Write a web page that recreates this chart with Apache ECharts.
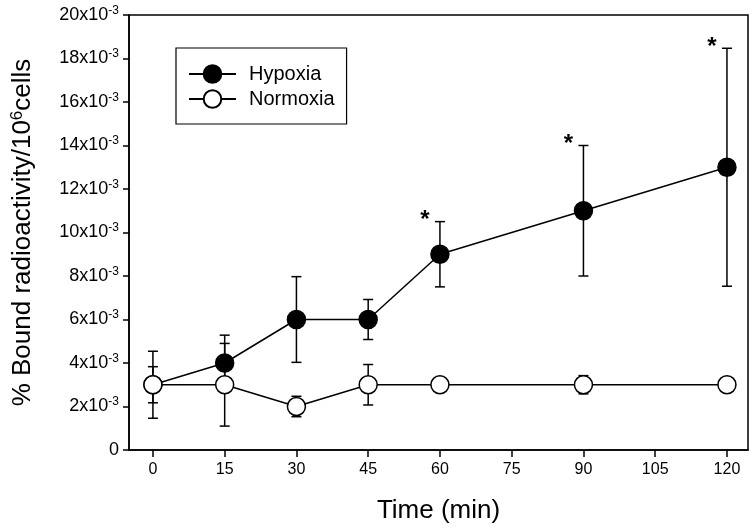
<!DOCTYPE html>
<html>
<head>
<meta charset="utf-8">
<script src="https://cdn.jsdelivr.net/npm/echarts@6/dist/echarts.min.js"></script>
<style>html,body{margin:0;padding:0;background:#fff;}#c{width:754px;height:530px;}</style>
</head>
<body>
<div id="c"></div>
<script>
// values in units of 10^-3 % bound radioactivity per 10^6 cells
const times = [0, 15, 30, 45, 60, 90, 120];
const hypoxia = [3, 4, 6, 6, 9, 11, 13];
const hypoxiaErr = [0.83, 1.28, 1.97, 0.92, 1.5, 3.0, 5.47];
const normoxia = [3, 3, 2, 3, 3, 3, 3];
const normoxiaErr = [1.54, 1.9, 0.47, 0.93, 0.25, 0.42, 0];
const sigTimes = [60, 90, 120];
const xTicks = [0, 15, 30, 45, 60, 75, 90, 105, 120];
const yTicks = [0, 2, 4, 6, 8, 10, 12, 14, 16, 18, 20];

const FONT = 'Liberation Sans, Arial, sans-serif';
const chart = echarts.init(document.getElementById('c'), null, {renderer: 'canvas'});

const hypData = times.map((t, i) => [t, hypoxia[i]]);
const norData = times.map((t, i) => [t, normoxia[i]]);
const hypErrData = times.map((t, i) => [t, hypoxia[i], hypoxiaErr[i]]);
const norErrData = times.map((t, i) => [t, normoxia[i], normoxiaErr[i]]);
const sigData = sigTimes.map(t => { const i = times.indexOf(t); return [t, hypoxia[i] + hypoxiaErr[i]]; });

function errRender(params, api) {
  const x = api.value(0), m = api.value(1), e = api.value(2);
  if (!e) return null;
  const top = api.coord([x, m + e]);
  const bot = api.coord([x, m - e]);
  const hw = 5;
  const st = {stroke: '#000', lineWidth: 1.5};
  return {
    type: 'group',
    children: [
      {type: 'line', shape: {x1: top[0], y1: top[1], x2: bot[0], y2: bot[1]}, style: st},
      {type: 'line', shape: {x1: top[0] - hw, y1: top[1], x2: top[0] + hw, y2: top[1]}, style: st},
      {type: 'line', shape: {x1: bot[0] - hw, y1: bot[1], x2: bot[0] + hw, y2: bot[1]}, style: st}
    ]
  };
}

function sigRender(params, api) {
  const p = api.coord([api.value(0), api.value(1)]);
  return {
    type: 'text',
    x: p[0] - 15, y: p[1] - 1,
    style: {text: '*', fill: '#000', font: 'bold 24px ' + FONT, textAlign: 'center', textVerticalAlign: 'middle'}
  };
}

const option = {
  animation: false,
  backgroundColor: '#fff',
  textStyle: {fontFamily: FONT, color: '#000'},
  grid: {left: 129, right: 6, top: 15, bottom: 80, show: true, borderColor: '#000', borderWidth: 1.5, backgroundColor: 'transparent'},
  legend: {
    orient: 'vertical', left: 176, top: 48,
    data: ['Hypoxia', 'Normoxia'],
    borderColor: '#000', borderWidth: 1.2,
    padding: [16, 12, 15, 12],
    itemGap: 5, itemWidth: 47, itemHeight: 22,
    textStyle: {fontFamily: FONT, fontSize: 20, color: '#000', padding: [0, 0, 0, 8]}
  },
  xAxis: {
    type: 'value', min: -5, max: 124.4,
    name: 'Time (min)', nameLocation: 'middle', nameGap: 48,
    nameTextStyle: {fontFamily: FONT, fontSize: 26, color: '#000'},
    axisLine: {show: true, onZero: false, lineStyle: {color: '#000', width: 1.5}},
    axisTick: {show: true, length: 7, customValues: xTicks, lineStyle: {color: '#000', width: 1.5}},
    axisLabel: {customValues: xTicks, margin: 12, fontFamily: FONT, fontSize: 16, color: '#000'},
    splitLine: {show: false}
  },
  yAxis: {
    type: 'value', min: 0, max: 20, interval: 2,
    name: '{a|% Bound radioactivity/10}{s|6}{a|cells}', nameLocation: 'middle', nameGap: 92,
    nameTextStyle: {
      fontFamily: FONT, color: '#000',
      rich: {a: {fontFamily: FONT, fontSize: 26, color: '#000'}, s: {fontFamily: FONT, fontSize: 17, color: '#000', verticalAlign: 'bottom', padding: [0, 0, 11, 0]}}
    },
    axisLine: {show: true, onZero: false, lineStyle: {color: '#000', width: 1.5}},
    axisTick: {show: true, length: 6, lineStyle: {color: '#000', width: 1.5}},
    axisLabel: {
      margin: 10, color: '#000', fontFamily: FONT,
      formatter: v => v === 0 ? '{n|0}' : '{n|' + v + 'x10}{s|-3}',
      rich: {n: {fontFamily: FONT, fontSize: 18, color: '#000'}, s: {fontFamily: FONT, fontSize: 12, color: '#000', verticalAlign: 'bottom', padding: [0, 0, 9, 0]}}
    },
    splitLine: {show: false}
  },
  series: [
    {type: 'custom', name: 'hypErr', renderItem: errRender, data: hypErrData, z: 1, silent: true},
    {type: 'custom', name: 'norErr', renderItem: errRender, data: norErrData, z: 1, silent: true},
    {type: 'line', name: 'Hypoxia', data: hypData, z: 3, symbol: 'circle', symbolSize: 18,
      lineStyle: {color: '#000', width: 1.5}, itemStyle: {color: '#000', borderColor: '#000', borderWidth: 1.5}},
    {type: 'line', name: 'Normoxia', data: norData, z: 4, symbol: 'circle', symbolSize: 18,
      lineStyle: {color: '#000', width: 1.5}, itemStyle: {color: '#fff', borderColor: '#000', borderWidth: 1.5}},
    {type: 'custom', name: 'sig', renderItem: sigRender, data: sigData, z: 5, silent: true}
  ]
};
chart.setOption(option);
</script>
</body>
</html>
